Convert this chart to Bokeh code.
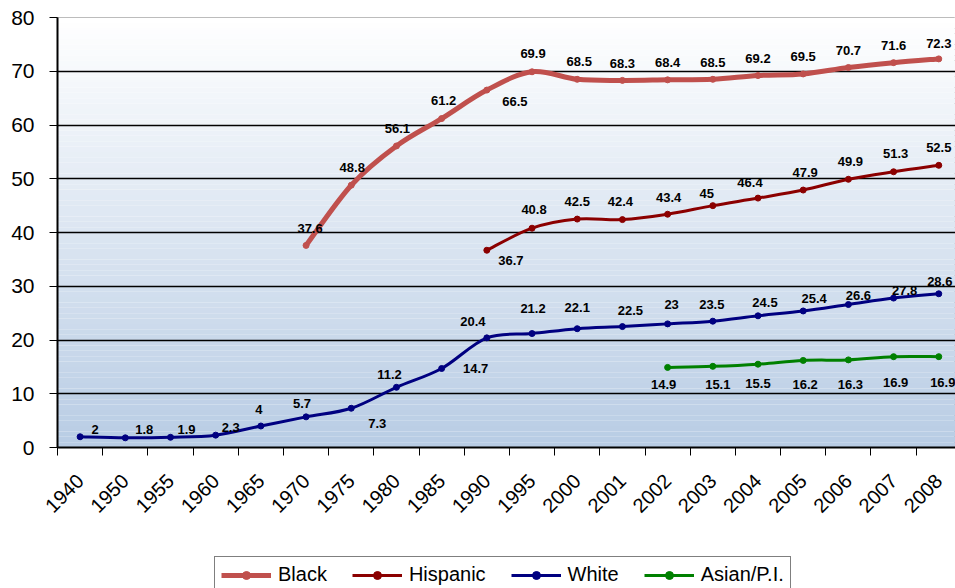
import numpy as np
from bokeh.plotting import figure
from bokeh.layouts import column
from bokeh.models import Range1d, FixedTicker, Legend, LegendItem, ColumnDataSource
from bokeh.embed import file_html
from bokeh.resources import INLINE
from bokeh.core.properties import value

# ---------------- data ----------------
categories = ["1940", "1950", "1955", "1960", "1965", "1970", "1975", "1980", "1985",
              "1990", "1995", "2000", "2001", "2002", "2003", "2004", "2005", "2006",
              "2007", "2008"]

black_years = ["1970", "1975", "1980", "1985", "1990", "1995", "2000", "2001", "2002",
               "2003", "2004", "2005", "2006", "2007", "2008"]
black_values = [37.6, 48.8, 56.1, 61.2, 66.5, 69.9, 68.5, 68.3, 68.4, 68.5, 69.2, 69.5,
                70.7, 71.6, 72.3]

hispanic_years = ["1990", "1995", "2000", "2001", "2002", "2003", "2004", "2005", "2006",
                  "2007", "2008"]
hispanic_values = [36.7, 40.8, 42.5, 42.4, 43.4, 45, 46.4, 47.9, 49.9, 51.3, 52.5]

white_years = categories
white_values = [2, 1.8, 1.9, 2.3, 4, 5.7, 7.3, 11.2, 14.7, 20.4, 21.2, 22.1, 22.5, 23,
                23.5, 24.5, 25.4, 26.6, 27.8, 28.6]

asian_years = ["2002", "2003", "2004", "2005", "2006", "2007", "2008"]
asian_values = [14.9, 15.1, 15.5, 16.2, 16.3, 16.9, 16.9]

y_ticks = [0, 10, 20, 30, 40, 50, 60, 70, 80]

# ---------------- label offsets (screen px; dx right, dy down) ----------------
black_off = [(4, -17), (1, -18), (1, -17), (2, -18), (28, 11), (1, -18), (2, -18),
             (0, -17), (0, -17), (0, -17), (0, -17), (0, -17), (0, -17), (0, -17), (0, -15)]
hispanic_off = [(24, 10), (2, -19), (0, -18), (-2, -18), (1, -17), (-6, -12), (-8, -16),
                (2, -18), (2, -18), (2, -18), (0, -18)]
white_off = [(15, -7), (19, -8), (16, -8), (15, -8), (-2, -17), (-4, -13), (26, 15),
             (-7, -13), (34, 0), (-14, -16), (1, -25), (0, -21), (8, -16), (4, -19),
             (-1, -17), (7, -13), (11, -12), (10, -9), (11, -8), (1, -12)]
asian_off = [(-4, 17), (5, 18), (0, 19), (2, 24), (2, 25), (2, 26), (4, 26)]

FONT = "Liberation Sans"

p = figure(width=955, height=540, output_backend="svg", toolbar_location=None,
           x_range=Range1d(-0.5, 19.37), y_range=Range1d(0, 80),
           min_border_left=57, min_border_right=0, min_border_top=17,
           min_border_bottom=93, background_fill_color="white",
           border_fill_color="white", outline_line_color="#a6a6a6")

# gradient background (white at top -> light blue at bottom)
top_c = np.array([255, 255, 255])
bot_c = np.array([184, 204, 228])
nb = 80
band_bottoms = np.linspace(0, 80, nb + 1)[:-1]
band_tops = np.linspace(0, 80, nb + 1)[1:]
cols = []
for b in band_bottoms:
    t = (b + 0.5) / 80.0
    c = bot_c + (top_c - bot_c) * t
    cols.append("#%02x%02x%02x" % tuple(int(round(v)) for v in c))
p.quad(left=-0.5, right=19.6, bottom=band_bottoms, top=band_tops, fill_color=cols,
       line_color=None, level="underlay")

# grid
p.xgrid.visible = False
p.ygrid.ticker = FixedTicker(ticks=y_ticks[1:-1])
p.ygrid.grid_line_color = "black"
p.ygrid.grid_line_width = 1.3
p.ygrid.level = "underlay"

# axes
p.yaxis.ticker = FixedTicker(ticks=y_ticks)
p.yaxis.major_label_text_font = FONT
p.yaxis.major_label_text_font_size = "21px"
p.yaxis.major_label_text_color = "black"
p.yaxis.major_tick_out = 8
p.yaxis.major_tick_in = 0
p.yaxis.minor_tick_line_color = None
p.yaxis.major_label_standoff = 15
p.yaxis.axis_line_width = 2
p.yaxis.axis_line_color = "black"
p.yaxis.major_tick_line_color = "black"

idx = list(range(len(categories)))
p.xaxis.ticker = FixedTicker(ticks=idx, minor_ticks=[i - 0.5 for i in range(len(categories) + 1)])
p.xaxis.major_label_overrides = {i: c for i, c in enumerate(categories)}
p.xaxis.major_tick_line_color = None
p.xaxis.minor_tick_line_color = "black"
p.xaxis.minor_tick_out = 8
p.xaxis.minor_tick_in = 0
p.xaxis.major_label_orientation = np.pi / 4
p.xaxis.major_label_text_font = FONT
p.xaxis.major_label_text_font_size = "20px"
p.xaxis.major_label_text_color = "black"
p.xaxis.major_label_standoff = 22
p.xaxis.axis_line_width = 2
p.xaxis.axis_line_color = "black"


def bezier_source(years, vals):
    xs = np.array([categories.index(y) for y in years], dtype=float)
    ys = np.array(vals, dtype=float)
    n = len(xs)
    x0, y0, x1, y1, cx0, cy0, cx1, cy1 = ([] for _ in range(8))
    for i in range(n - 1):
        pm = max(i - 1, 0)
        pp = min(i + 2, n - 1)
        x0.append(xs[i]); y0.append(ys[i])
        x1.append(xs[i + 1]); y1.append(ys[i + 1])
        cx0.append(xs[i] + (xs[i + 1] - xs[pm]) / 6.0)
        cy0.append(ys[i] + (ys[i + 1] - ys[pm]) / 6.0)
        cx1.append(xs[i + 1] - (xs[pp] - xs[i]) / 6.0)
        cy1.append(ys[i + 1] - (ys[pp] - ys[i]) / 6.0)
    return ColumnDataSource(dict(x0=x0, y0=y0, x1=x1, y1=y1, cx0=cx0, cy0=cy0,
                                 cx1=cx1, cy1=cy1))


series = [
    ("Black", black_years, black_values, "#c0504d", 5, 6, black_off),
    ("Hispanic", hispanic_years, hispanic_values, "#8b0000", 3, 6, hispanic_off),
    ("White", white_years, white_values, "#000080", 3, 6, white_off),
    ("Asian/P.I.", asian_years, asian_values, "#008000", 3, 6, asian_off),
]

# legend strip below the chart (its own renderers lie outside its visible range)
pl = figure(width=955, height=48, output_backend="svg", toolbar_location=None,
            x_range=Range1d(-100, -99), y_range=Range1d(-100, -99), min_border=0,
            x_axis_location=None, y_axis_location=None,
            outline_line_color=None, background_fill_color="white",
            border_fill_color="white")
pl.grid.visible = False

items = []
for name, yrs, vals, color, lw, ms, offs in series:
    src = bezier_source(yrs, vals)
    p.bezier(x0="x0", y0="y0", x1="x1", y1="y1", cx0="cx0", cy0="cy0",
             cx1="cx1", cy1="cy1", source=src, line_color=color, line_width=lw,
             line_cap="round")
    xi = [categories.index(y) for y in yrs]
    p.scatter(xi, vals, size=ms, fill_color=color, line_color=color, marker="circle")
    lab = ColumnDataSource(dict(x=xi, y=vals, t=[("%g" % v) for v in vals],
                                dx=[o[0] for o in offs], dy=[o[1] for o in offs]))
    p.text(x="x", y="y", text="t", x_offset="dx", y_offset="dy", source=lab,
           text_font=value(FONT), text_font_style="bold", text_font_size="13px",
           text_color="black", text_align="center", text_baseline="middle")
    # legend swatch renderers (same style and data, outside the strip's view)
    lr = pl.line(x=xi, y=vals, line_color=color, line_width=lw)
    ls = pl.scatter(x=xi, y=vals, size=ms, fill_color=color, line_color=color,
                    marker="circle")
    items.append(LegendItem(label=name, renderers=[lr, ls]))

legend = Legend(items=items, orientation="horizontal", location=(157, -5),
                label_text_font=FONT, label_text_font_size="20px",
                label_text_color="black", glyph_width=50, glyph_height=20,
                label_standoff=7, spacing=25, padding=6, margin=0,
                border_line_color="black", border_line_width=1,
                background_fill_color="white", background_fill_alpha=1.0)
pl.add_layout(legend, "center")

layout = column(p, pl, spacing=0)
open("out.html", "w").write(file_html(layout, INLINE))
